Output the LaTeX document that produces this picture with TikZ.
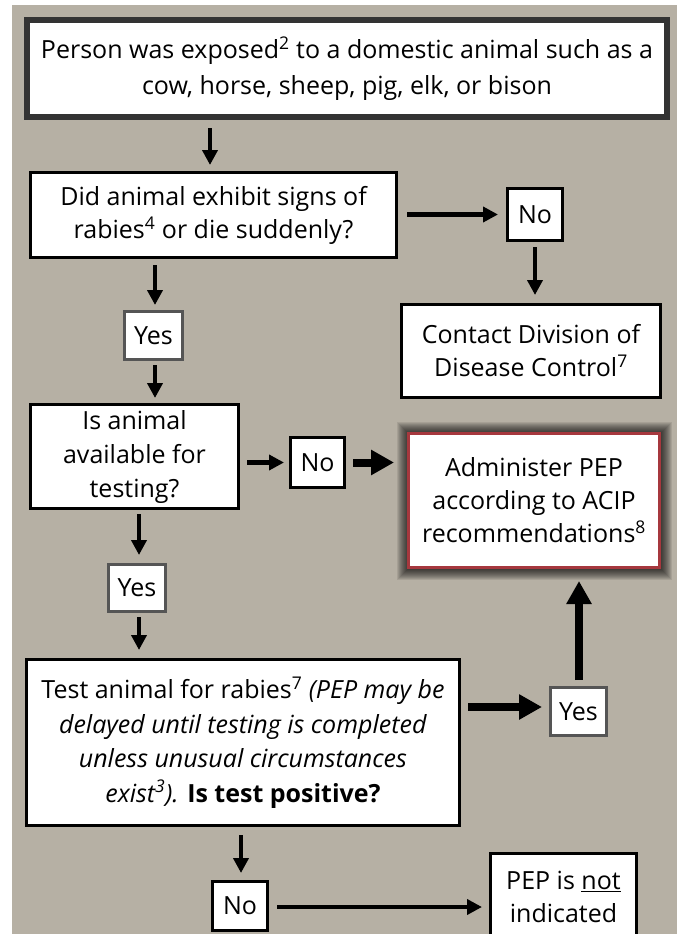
\documentclass[tikz,border=0pt]{standalone}
\usepackage{fontspec}
\setmainfont{Open Sans}
\usetikzlibrary{arrows.meta,calc}
\definecolor{bg}{RGB}{182,176,164}
\definecolor{topline}{RGB}{51,51,51}
\definecolor{grayline}{RGB}{85,85,85}
\definecolor{redline}{RGB}{166,56,62}
\begin{document}
\begin{tikzpicture}[x=1pt,y=-1pt,
  box/.style={draw=black, line width=3pt, fill=white, align=center, inner sep=0pt,
    font=\fontsize{25}{33}\selectfont},
  ansbox/.style={box},
  grayans/.style={box, draw=grayline},
  tarr/.style={line width=4.5pt, -{Triangle[length=15pt,width=15pt]}},
  karr/.style={line width=8pt, -{Triangle[length=23pt,width=24pt]}}]
\useasboundingbox (0,0) rectangle (677,934);
\fill[bg] (12,5) rectangle (677,934);

% shadow for administer box
\foreach \i in {1,...,12}{
  \fill[black, opacity=0.085] (408.5-\i,433.5-\i) rectangle (659.5+\i,567.5+\i);
}

\node[box, draw=topline, line width=6pt, minimum width=640pt, minimum height=97pt,
  font=\fontsize{25}{36}\selectfont] (top) at (347,68.5)
  {Person was exposed\textsuperscript{2} to a domestic animal such as a\\cow, horse, sheep, pig, elk, or bison};

\node[box, minimum width=366pt, minimum height=85pt] (box2) at (213.5,215)
  {Did animal exhibit signs of\\rabies\textsuperscript{4} or die suddenly?};

\node[ansbox, minimum width=55pt, minimum height=52pt] (no1) at (535,214.5) {No};

\node[box, minimum width=259pt, minimum height=93pt] (contact) at (531,351)
  {Contact Division of\\Disease Control\textsuperscript{7}};

\node[box, draw=redline, minimum width=251pt, minimum height=134pt] (admin) at (534,500.5)
  {Administer PEP\\according to ACIP\\recommendations\textsuperscript{8}};

\node[grayans, minimum width=58pt, minimum height=48pt] (yes1) at (153.5,335.5) {Yes};

\node[box, minimum width=208pt, minimum height=104pt, font=\fontsize{25}{34}\selectfont] (box3) at (134.5,456.5)
  {Is animal\\available for\\testing?};

\node[ansbox, minimum width=54pt, minimum height=50pt] (no2) at (317.5,462.5) {No};

\node[grayans, minimum width=57pt, minimum height=47pt] (yes2) at (137,588) {Yes};

\node[box, minimum width=433pt, minimum height=166pt, font=\fontsize{25}{34.5}\selectfont] (box4) at (243,742.5)
  {Test animal for rabies\textsuperscript{7} \textit{(PEP may be}\\
   \textit{delayed until testing is completed}\\
   \textit{unless unusual circumstances}\\
   \textit{exist\textsuperscript{3}).} \textbf{Is test positive?}};

\node[grayans, minimum width=56pt, minimum height=48pt] (yes3) at (578.5,711.5) {Yes};

\node[ansbox, minimum width=55pt, minimum height=49pt] (no3) at (240,906) {No};

\node[box, minimum width=146pt, minimum height=87pt, anchor=north] (pepnot) at (563.5,851.5)
  {PEP is \underline{not}\\indicated};

% connectors
\coordinate (cx1) at (210,0);
\draw[tarr, shorten <=8pt, shorten >=6pt] (top.south -| cx1) -- (box2.north -| cx1);
\draw[tarr, shorten <=9pt, shorten >=8pt] (box2.east |- no1.west) -- (no1.west);
\draw[tarr, shorten <=5pt, shorten >=8pt] (no1.south) -- (no1.south |- contact.north);
\coordinate (cx2) at (155,0);
\draw[tarr, shorten <=6pt, shorten >=5pt] (box2.south -| cx2) -- (yes1.north -| cx2);
\draw[tarr, shorten <=4pt, shorten >=5pt] (yes1.south -| cx2) -- (box3.north -| cx2);
\draw[tarr, shorten <=7pt, shorten >=5pt] (box3.east |- no2.west) -- (no2.west);
\draw[karr, shorten <=7pt, shorten >=13pt] (no2.east) -- (no2.east -| admin.west);
\coordinate (cx3) at (139,0);
\draw[tarr, shorten <=4pt, shorten >=8pt] (box3.south -| cx3) -- (yes2.north -| cx3);
\draw[tarr, shorten <=4pt, shorten >=8pt] (yes2.south -| cx3) -- (box4.north -| cx3);
\coordinate (cy4) at (0,707);
\draw[karr, shorten <=7pt, shorten >=7pt] (box4.east |- cy4) -- (yes3.west |- cy4);
\coordinate (cx5) at (579,0);
\draw[karr, shorten <=6pt, shorten >=12pt] (yes3.north -| cx5) -- (admin.south -| cx5);
\coordinate (cx6) at (241,0);
\draw[tarr, shorten <=8pt, shorten >=7pt] (box4.south -| cx6) -- (no3.north -| cx6);
\coordinate (cy7) at (0,907);
\draw[tarr, shorten <=8pt, shorten >=7pt] (no3.east |- cy7) -- (pepnot.west |- cy7);
\end{tikzpicture}
\end{document}
